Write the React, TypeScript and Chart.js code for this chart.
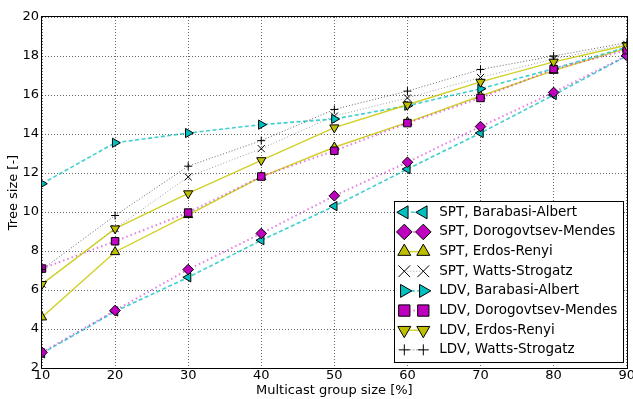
import React, { useEffect, useRef } from 'react';
import { Chart, registerables } from 'chart.js';
import { drawPoint } from 'chart.js/helpers';

Chart.register(...registerables);

// ---------- data ----------
const groupSizes = [10, 20, 30, 40, 50, 60, 70, 80, 90];
const yTickValues = [2, 4, 6, 8, 10, 12, 14, 16, 18, 20];

const sptBarabasiAlbert = [2.75, 4.9, 6.65, 8.55, 10.3, 12.2, 14.05, 16.0, 18.0];
const sptDorogovtsevMendes = [2.8, 4.95, 7.05, 8.9, 10.83, 12.55, 14.38, 16.13, 18.02];
const sptErdosRenyi = [4.6, 7.95, 9.85, 11.8, 13.32, 14.6, 15.95, 17.25, 18.4];
const sptWattsStrogatz = [6.3, 9.15, 11.8, 13.25, 14.92, 15.85, 16.9, 17.85, 18.6];
const ldvBarabasiAlbert = [11.45, 13.55, 14.05, 14.48, 14.77, 15.45, 16.32, 17.35, 18.45];
const ldvDorogovtsevMendes = [7.1, 8.5, 9.97, 11.82, 13.14, 14.56, 15.85, 17.33, 18.3];
const ldvErdosRenyi = [6.3, 9.15, 10.95, 12.65, 14.33, 15.5, 16.67, 17.7, 18.55];
const ldvWattsStrogatz = [7.05, 9.82, 12.35, 13.66, 15.26, 16.2, 17.31, 18.0, 18.68];

const seriesLabels = [
  'SPT, Barabasi-Albert',
  'SPT, Dorogovtsev-Mendes',
  'SPT, Erdos-Renyi',
  'SPT, Watts-Strogatz',
  'LDV, Barabasi-Albert',
  'LDV, Dorogovtsev-Mendes',
  'LDV, Erdos-Renyi',
  'LDV, Watts-Strogatz',
];
const seriesValues = [
  sptBarabasiAlbert,
  sptDorogovtsevMendes,
  sptErdosRenyi,
  sptWattsStrogatz,
  ldvBarabasiAlbert,
  ldvDorogovtsevMendes,
  ldvErdosRenyi,
  ldvWattsStrogatz,
];

// ---------- styles ----------
const CYAN = '#00BFBF';
const MAGENTA = '#BF00BF';
const OLIVE = '#BFBF00';
const CYAN_LINE = 'rgba(0,191,191,0.75)';
const MAGENTA_LINE = 'rgba(210,40,210,0.6)';
const OLIVE_LINE = 'rgba(200,200,0,0.85)';

type SeriesStyle = {
  line: string;
  dash: number[];
  width: number;
  pointStyle: string;
  rotation: number;
  fill: string;
  radius: number;
  legendRadius: number;
};

const seriesStyles: SeriesStyle[] = [
  { line: CYAN_LINE, dash: [4, 2.5], width: 1.6, pointStyle: 'triangle', rotation: -90, fill: CYAN, radius: 5.3, legendRadius: 7.5 },
  { line: MAGENTA_LINE, dash: [1.5, 3], width: 2, pointStyle: 'rectRot', rotation: 0, fill: MAGENTA, radius: 5.3, legendRadius: 7.8 },
  { line: OLIVE_LINE, dash: [], width: 1.4, pointStyle: 'triangle', rotation: 0, fill: OLIVE, radius: 5.3, legendRadius: 7.5 },
  { line: 'rgba(0,0,0,0.38)', dash: [1, 2], width: 1, pointStyle: 'crossRot', rotation: 0, fill: '#000', radius: 5, legendRadius: 8.3 },
  { line: CYAN_LINE, dash: [4, 2.5], width: 1.6, pointStyle: 'triangle', rotation: 90, fill: CYAN, radius: 5.3, legendRadius: 7.5 },
  { line: MAGENTA_LINE, dash: [1.5, 3], width: 2, pointStyle: 'rect', rotation: 0, fill: MAGENTA, radius: 5.3, legendRadius: 8 },
  { line: OLIVE_LINE, dash: [], width: 1.4, pointStyle: 'triangle', rotation: 180, fill: OLIVE, radius: 5.3, legendRadius: 7.5 },
  { line: 'rgba(0,0,0,0.6)', dash: [1, 2], width: 1, pointStyle: 'cross', rotation: 0, fill: '#000', radius: 4, legendRadius: 5.5 },
];

const FONT = '"DejaVu Sans", "Liberation Sans", sans-serif';

const frameAndLegend = {
  id: 'frameAndLegend',
  afterDatasetsDraw(chart: any) {
    const { ctx, chartArea } = chart;
    ctx.save();
    ctx.strokeStyle = '#000';
    ctx.lineWidth = 1;
    ctx.setLineDash([]);
    ctx.strokeRect(
      Math.round(chartArea.left) - 0.5,
      Math.round(chartArea.top) - 0.5,
      Math.round(chartArea.right - chartArea.left) + 1,
      Math.round(chartArea.bottom - chartArea.top) + 1
    );
    ctx.restore();
  },
  afterDraw(chart: any) {
    const { ctx } = chart;
    ctx.save();
    ctx.fillStyle = '#fff';
    ctx.fillRect(394.5, 201.5, 229, 161);
    ctx.strokeStyle = '#000';
    ctx.lineWidth = 1;
    ctx.setLineDash([]);
    ctx.strokeRect(394.5, 201.5, 229, 161);

    const x1 = 404.3;
    const x2 = 423.3;
    chart.data.datasets.forEach((ds: any, i: number) => {
      const st = seriesStyles[i];
      const y = 212.3 + i * 19.65;
      ctx.save();
      ctx.strokeStyle = st.line;
      ctx.lineWidth = st.width;
      ctx.setLineDash(st.dash);
      ctx.beginPath();
      ctx.moveTo(x1, y);
      ctx.lineTo(x2, y);
      ctx.stroke();
      ctx.restore();
      for (const px of [x1, x2]) {
        ctx.save();
        ctx.fillStyle = st.fill;
        ctx.strokeStyle = '#000';
        ctx.lineWidth = 1;
        ctx.setLineDash([]);
        drawPoint(ctx, { pointStyle: st.pointStyle, rotation: st.rotation, radius: st.legendRadius, borderWidth: 1 } as any, px, y);
        ctx.restore();
      }
      ctx.fillStyle = '#000';
      ctx.font = `13.5px ${FONT}`;
      ctx.textBaseline = 'middle';
      ctx.textAlign = 'left';
      ctx.fillText(ds.label, 439.3, y);
    });
    ctx.restore();
  },
};

export default function App() {
  const canvasRef = useRef<HTMLCanvasElement | null>(null);

  useEffect(() => {
    document.body.style.margin = '0';
    const canvas = canvasRef.current;
    if (!canvas) return;

    const datasets = seriesLabels.map((label, i) => {
      const st = seriesStyles[i];
      return {
        label,
        data: groupSizes.map((x, j) => ({ x, y: seriesValues[i][j] })),
        borderColor: st.line,
        borderWidth: st.width,
        borderDash: st.dash,
        backgroundColor: st.fill,
        pointStyle: st.pointStyle,
        pointRotation: st.rotation,
        pointRadius: st.radius,
        pointBackgroundColor: st.fill,
        pointBorderColor: '#000',
        pointBorderWidth: 1,
        pointHoverRadius: st.radius,
        tension: 0,
        fill: false,
        clip: 0,
        order: seriesLabels.length - 1 - i,
      };
    });

    const chart = new Chart(canvas, {
      type: 'line',
      data: { datasets },
      plugins: [frameAndLegend],
      options: {
        animation: false,
        responsive: false,
        devicePixelRatio: 1,
        layout: { padding: { top: 17, right: 5, left: 0, bottom: 0 } },
        plugins: {
          legend: { display: false },
          tooltip: { enabled: false },
        },
        scales: {
          x: {
            type: 'linear',
            min: 10,
            max: 90,
            afterBuildTicks: (scale: any) => {
              scale.ticks = groupSizes.map((v) => ({ value: v }));
            },
            ticks: {
              color: '#000',
              font: { family: FONT, size: 13 },
              padding: 0,
              maxRotation: 0,
              autoSkip: false,
            },
            grid: {
              color: 'rgba(0,0,0,0.6)',
              lineWidth: 1,
              drawTicks: false,
            },
            border: { display: false, dash: [1, 2] },
            title: {
              display: true,
              text: 'Multicast group size [%]',
              color: '#000',
              font: { family: FONT, size: 13 },
              padding: { top: 0, bottom: 1 },
            },
            afterFit: (scale: any) => {
              scale.height = 31;
              scale.paddingLeft = 0;
              scale.paddingRight = 0;
            },
          },
          y: {
            type: 'linear',
            min: 2,
            max: 20,
            afterBuildTicks: (scale: any) => {
              scale.ticks = yTickValues.map((v) => ({ value: v }));
            },
            ticks: {
              color: '#000',
              font: { family: FONT, size: 13 },
              padding: 3,
              autoSkip: false,
            },
            grid: {
              color: 'rgba(0,0,0,0.6)',
              lineWidth: 1,
              drawTicks: false,
            },
            border: { display: false, dash: [1, 2] },
            title: {
              display: true,
              text: 'Tree size [-]',
              color: '#000',
              font: { family: FONT, size: 13 },
              padding: { top: 6, bottom: 0 },
            },
            afterFit: (scale: any) => {
              scale.width = 42;
              scale.paddingTop = 0;
              scale.paddingBottom = 0;
            },
          },
        },
      } as any,
    });

    return () => chart.destroy();
  }, []);

  return (
    <div style={{ position: 'absolute', left: 0, top: 0, width: 633, height: 399 }}>
      <canvas ref={canvasRef} width={633} height={399} />
    </div>
  );
}
